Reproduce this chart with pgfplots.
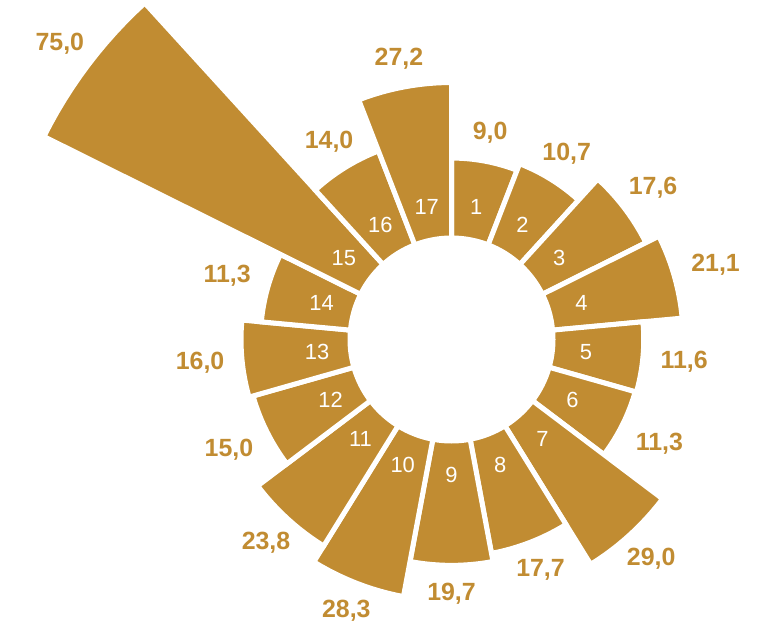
\documentclass[border=0pt]{standalone}
\usepackage{fontspec}
\setmainfont{Liberation Sans}
\usepackage{pgfplots}
\usepackage{pgfplotstable}
\pgfplotsset{compat=1.18}
\definecolor{gold}{RGB}{193,140,50}
\newcommand\valfont{\fontsize{25}{30}\selectfont\bfseries}
\newcommand\numfont{\fontsize{22}{26}\selectfont}
\pgfplotstableread{
id value
1 9.0
2 10.7
3 17.6
4 21.1
5 11.6
6 11.3
7 29.0
8 17.7
9 19.7
10 28.3
11 23.8
12 15.0
13 16.0
14 11.3
15 75.0
16 14.0
17 27.2
}\datatable
\begin{document}
\begin{tikzpicture}
\begin{axis}[
  width=760bp, height=622bp, scale only axis,
  xmin=-451.5, xmax=308.5, ymin=-282.5, ymax=339.5,
  hide axis, clip=false,
]
\path (rel axis cs:0,0) rectangle (rel axis cs:1,1);
\pgfplotsforeachungrouped \i in {0,...,16}{%
  \pgfplotstablegetelem{\i}{value}\of\datatable
  \edef\v{\pgfplotsretval}%
  \pgfmathsetmacro{\ro}{144.1+4.15*\v}%
  \pgfmathsetmacro{\aone}{90-\i*360/17}%
  \pgfmathsetmacro{\atwo}{90-(\i+1)*360/17}%
  \pgfmathsetmacro{\amid}{(\aone+\atwo)/2}%
  \gdef\coords{}%
  \foreach \k in {0,...,12}{%
    \pgfmathsetmacro{\a}{\aone+(\atwo-\aone)*\k/12}%
    \pgfmathsetmacro{\px}{\ro*cos(\a)}%
    \pgfmathsetmacro{\py}{\ro*sin(\a)}%
    \xdef\coords{\coords (\px,\py)}%
  }%
  \foreach \k in {12,...,0}{%
    \pgfmathsetmacro{\a}{\aone+(\atwo-\aone)*\k/12}%
    \pgfmathsetmacro{\px}{101.5*cos(\a)}%
    \pgfmathsetmacro{\py}{101.5*sin(\a)}%
    \xdef\coords{\coords (\px,\py)}%
  }%
  \pgfmathsetmacro{\lr}{\ro-2.5+20}%
  \pgfmathsetmacro{\lx}{\lr*cos(\amid)}%
  \pgfmathsetmacro{\ly}{\lr*sin(\amid)}%
  \pgfmathsetmacro{\anc}{\amid+180}%
  \pgfmathsetmacro{\nx}{135*cos(\amid)}%
  \pgfmathsetmacro{\ny}{135*sin(\amid)}%
  \pgfmathtruncatemacro{\num}{\i+1}%
  \edef\cmd{%
    \noexpand\addplot[fill=gold, draw=white, line width=5bp, line join=miter] coordinates {\coords} -- cycle;
    \noexpand\node[anchor=\anc, inner sep=0pt, text=gold, font=\noexpand\valfont] at (axis cs:\lx,\ly) {\noexpand\pgfmathprintnumber[fixed, fixed zerofill, precision=1, use comma, assume math mode=true]{\v}};
    \noexpand\node[text=white, font=\noexpand\numfont] at (axis cs:\nx,\ny) {\num};
  }%
  \cmd
}
\end{axis}
\end{tikzpicture}
\end{document}
